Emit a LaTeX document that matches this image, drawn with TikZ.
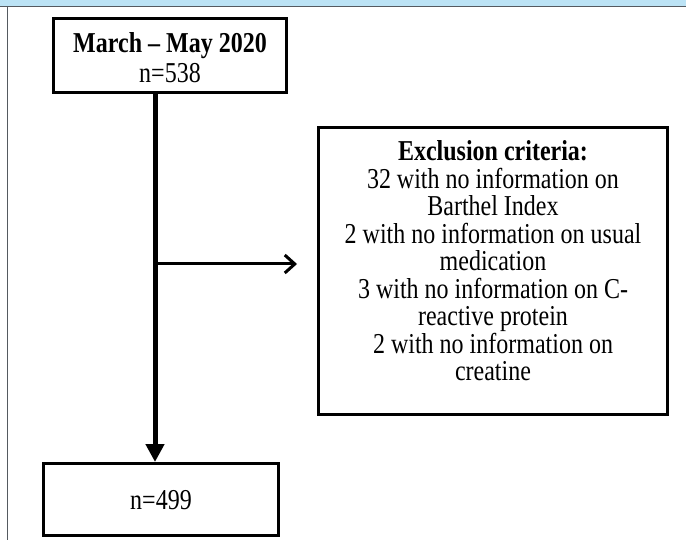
\documentclass[tikz,border=0pt]{standalone}
\usepackage{fontspec}
\setmainfont{Liberation Serif}
\usetikzlibrary{arrows.meta,positioning}

\definecolor{bandblue}{HTML}{BCE3F5}
\definecolor{framegrey}{HTML}{555A60}

\begin{document}
\begin{tikzpicture}[x=1pt,y=-1pt,
    box/.style={draw,line width=3pt,align=center,inner sep=0pt},
    txt/.style={font=\fontsize{24}{22.9}\selectfont,align=center,
                inner sep=0pt,yscale=1.2,transform shape}]
  \useasboundingbox (0,0) rectangle (686,540);

  % frame of the figure
  \fill[bandblue] (0,0) rectangle (686,6);
  \draw[framegrey,line width=1.5pt] (0,6.5) -- (686,6.5);
  \draw[framegrey,line width=1pt] (7.5,7) -- (7.5,540);

  \node[box,minimum width=233pt,minimum height=74pt] (start) at (170,55.5) {};
  \node[txt] (starttext) at (170,58)
       {\textbf{March -- May 2020}\\[2pt]n=538};
  \node[box,minimum width=235pt,minimum height=72pt] (final) at (161,499.5) {};
  \node[txt] (finaltext) at (161,500) {n=499};
  \node[box,minimum width=349pt,minimum height=287pt] (excl) at (493,271) {};
  \node[txt] (excltext) at (493,261)
       {\textbf{Exclusion criteria:}\\
        32 with no information on\\
        Barthel Index\\
        2 with no information on usual\\
        medication\\
        3 with no information on C-\\
        reactive protein\\
        2 with no information on\\
        creatine};

  \coordinate (split) at (155,264);
  \coordinate (tip) at (297,264);

  \draw[line width=5pt,-{Triangle[length=18pt,width=18pt]}]
       (start.south -| split) -- (final.north -| split);
  \draw[line width=3pt,-{Straight Barb[length=10pt,width=18pt]}] (split) -- (tip);
\end{tikzpicture}
\end{document}
